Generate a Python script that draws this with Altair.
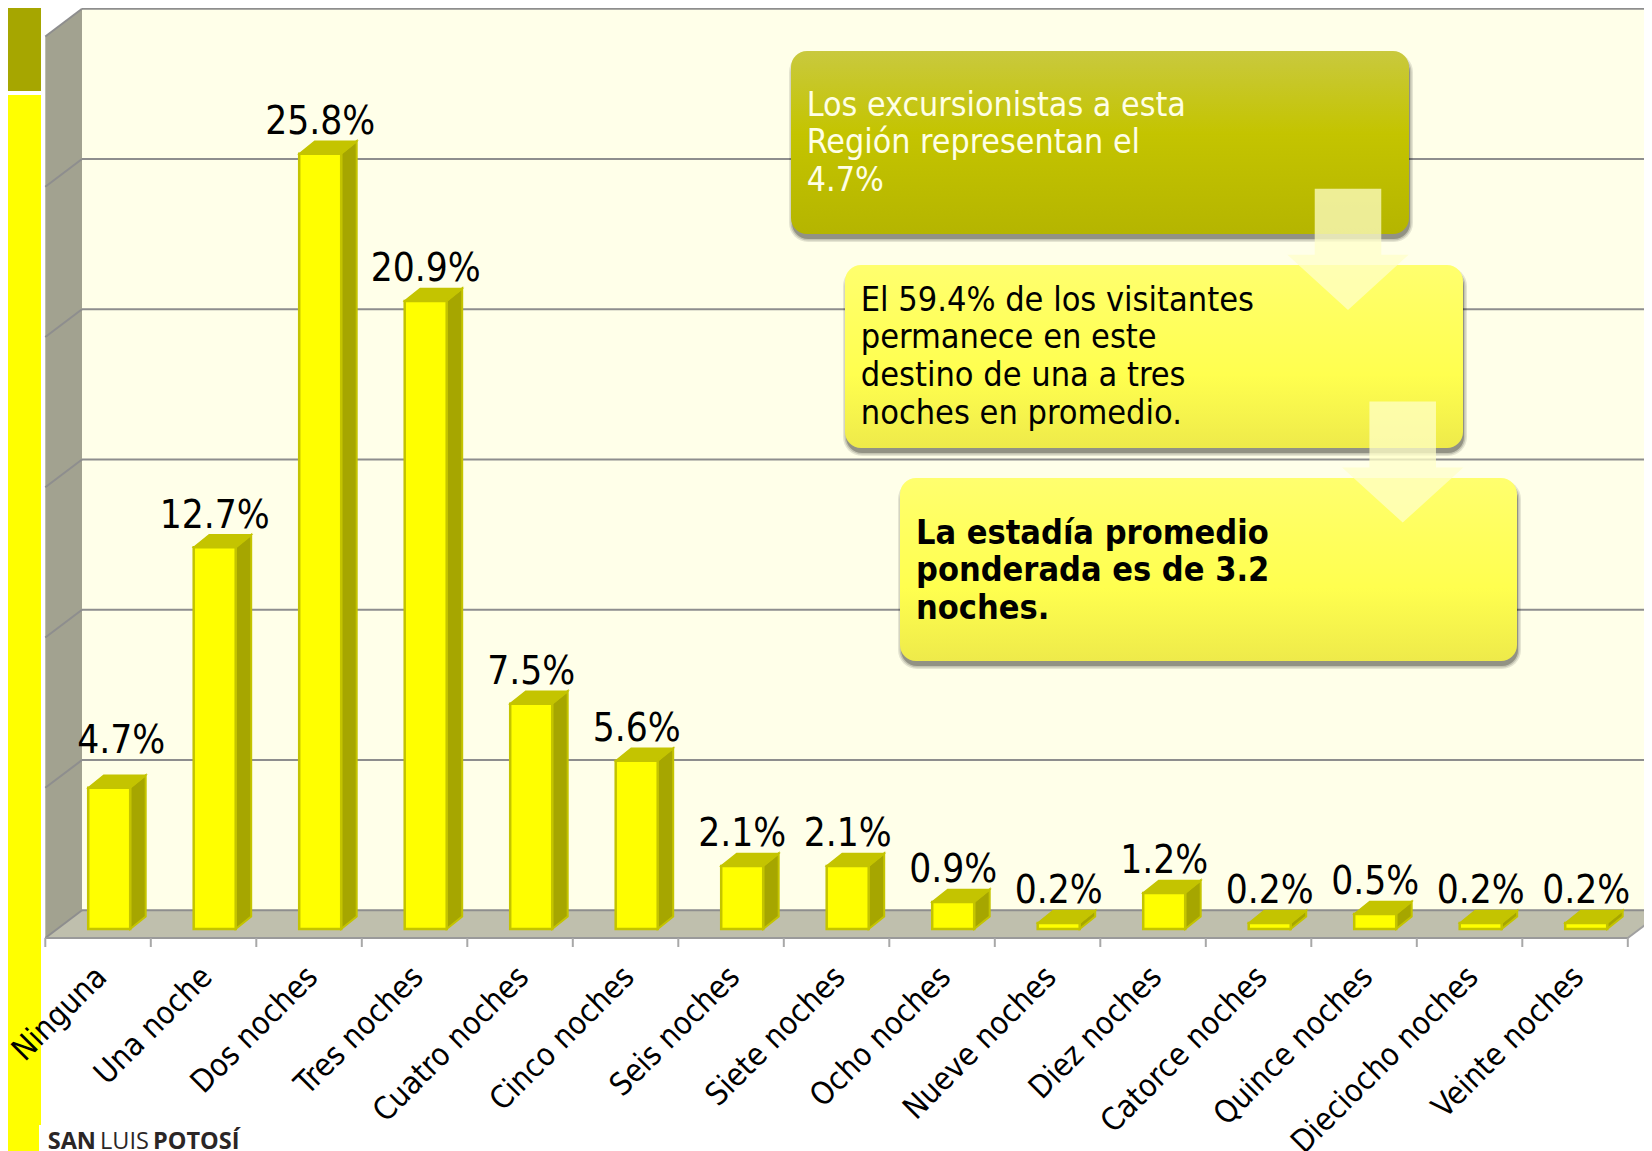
import altair as alt
import pandas as pd

categories = ["Ninguna", "Una noche", "Dos noches", "Tres noches", "Cuatro noches", "Cinco noches",
              "Seis noches", "Siete noches", "Ocho noches", "Nueve noches", "Diez noches",
              "Catorce noches", "Quince noches", "Dieciocho noches", "Veinte noches"]
values = [4.7, 12.7, 25.8, 20.9, 7.5, 5.6, 2.1, 2.1, 0.9, 0.2, 1.2, 0.2, 0.5, 0.2, 0.2]
grid_values = [0, 5, 10, 15, 20, 25, 30]

W, H = 1636, 1143
CAT_PX, PCT_PX = 105.5, 30.05     # pixels per category / per percent
LEFT_PX, BASE_PX = 45.3, 929.0    # page position of category edge 0 and of value 0
PAGE = 8

def rx(px): return (px - LEFT_PX) / CAT_PX
def ry(py): return (BASE_PX - py) / PCT_PX

x_domain = [rx(PAGE), rx(PAGE + W)]
y_domain = [ry(PAGE + H), ry(PAGE)]
FONT = "DejaVu Sans Condensed"

def X(f): return alt.X(f + ":Q", scale=alt.Scale(domain=x_domain, range=[0, W], nice=False, zero=False), axis=None)
def Y(f): return alt.Y(f + ":Q", scale=alt.Scale(domain=y_domain, range=[H, 0], nice=False, zero=False), axis=None)

back_dx, back_dy, front_dy = 36.7 / CAT_PX, 18.7 / PCT_PX, -9 / PCT_PX
bar_left, bar_w, bar_dx, bar_dy = 42.9 / CAT_PX, 42 / CAT_PX, 15.5 / CAT_PX, 12.5 / PCT_PX

# ---- walls
wall_left = pd.DataFrame({"x": [0, back_dx], "y": [30 + front_dy, 30 + back_dy],
                          "y2": [front_dy, back_dy]})
floor = pd.DataFrame({"x": [0, back_dx, 15, 15 + back_dx], "y": [front_dy, back_dy, back_dy, back_dy],
                      "y2": [front_dy, front_dy, front_dy, back_dy]})
grid = pd.DataFrame({"x": [back_dx] * 7, "x2": [x_domain[1]] * 7, "y": [g + back_dy for g in grid_values]})
diag = pd.DataFrame([{"g": g, "x": xx, "y": g + yy} for g in grid_values
                     for xx, yy in ((0, front_dy), (back_dx, back_dy))])
diag_r = pd.DataFrame({"x": [15, 15 + back_dx], "y": [front_dy, back_dy]})
ticks = pd.DataFrame({"x": list(range(16)), "y": [front_dy] * 16, "y2": [front_dy - 9 / PCT_PX] * 16})

layers = []
one = pd.DataFrame({"a": [0]})

def px_rect(x, x2, y, y2, **kw):
    return alt.Chart(one).mark_rect(**kw).encode(
        x=alt.value(x - PAGE), x2=alt.value(x2 - PAGE), y=alt.value(y - PAGE), y2=alt.value(y2 - PAGE))

# left band
layers.append(px_rect(8, 41, 8, 91, color="#A6A600"))
layers.append(px_rect(8, 41, 95, 1151, color="#FFFF00"))
layers.append(px_rect(39, 260, 1125, 1151, color="#FFFFFF"))

layers.append(alt.Chart(pd.DataFrame({"x": [back_dx], "x2": [x_domain[1]], "y": [30 + back_dy], "y2": [back_dy]}))
              .mark_rect(color="#FFFFE9").encode(x=X("x"), x2="x2:Q", y=Y("y"), y2="y2:Q"))
layers.append(alt.Chart(wall_left).mark_area(color="#A2A290").encode(x=X("x"), y=Y("y"), y2="y2:Q"))
layers.append(alt.Chart(floor).mark_area(color="#BFBFAD").encode(x=X("x"), y=Y("y"), y2="y2:Q"))
layers.append(alt.Chart(grid).mark_rule(color="#8E8E8E", strokeWidth=2).encode(x=X("x"), x2="x2:Q", y=Y("y")))
layers.append(alt.Chart(diag).mark_line(color="#8E8E8E", strokeWidth=2).encode(x=X("x"), y=Y("y"), detail="g:N"))
layers.append(alt.Chart(diag_r).mark_line(color="#A0A0A0", strokeWidth=2).encode(x=X("x"), y=Y("y")))
layers.append(alt.Chart(pd.DataFrame({"x": [0], "x2": [15], "y": [front_dy]}))
              .mark_rule(color="#9A9A9A", strokeWidth=2).encode(x=X("x"), x2="x2:Q", y=Y("y")))
layers.append(alt.Chart(ticks).mark_rule(color="#A8A8A8", strokeWidth=2).encode(x=X("x"), y=Y("y"), y2="y2:Q"))

# ---- bars
front, side, top, lab, cat = [], [], [], [], []
for i, (c, v) in enumerate(zip(categories, values)):
    L = i + bar_left
    R = L + bar_w
    front.append({"c": c, "x": L, "x2": R, "y": v, "y2": 0})
    side += [{"c": c, "x": R, "y": v, "y2": 0}, {"c": c, "x": R + bar_dx, "y": v + bar_dy, "y2": bar_dy}]
    top += [{"c": c, "x": L, "y": v, "y2": v},
            {"c": c, "x": L + bar_dx, "y": v + bar_dy, "y2": v},
            {"c": c, "x": R, "y": v + bar_dy, "y2": v},
            {"c": c, "x": R + bar_dx, "y": v + bar_dy, "y2": v + bar_dy}]
    first = i == 0
    lab.append({"x": L + bar_w / 2 + (12 / CAT_PX if first else 0),
                "y": v + bar_dy + (22 if first else 7) / PCT_PX, "t": f"{v:.1f}%"})
    cat.append({"x": i + 0.5 + 4 / CAT_PX, "y": ry(972.5), "t": c})

layers.append(alt.Chart(pd.DataFrame(side)).mark_area(color="#A6A600", stroke="#C4C400", strokeWidth=2)
              .encode(x=X("x"), y=Y("y"), y2="y2:Q", detail="c:N"))
layers.append(alt.Chart(pd.DataFrame(top)).mark_area(color="#C4C400", stroke="#C4C400", strokeWidth=1.5)
              .encode(x=X("x"), y=Y("y"), y2="y2:Q", detail="c:N"))
layers.append(alt.Chart(pd.DataFrame(front)).mark_rect(fill="#FFFF00", stroke="#C4C400", strokeWidth=2.5)
              .encode(x=X("x"), x2="x2:Q", y=Y("y"), y2="y2:Q"))
layers.append(alt.Chart(pd.DataFrame(lab)).mark_text(font=FONT, fontSize=38.5, color="#000000", align="center",
              baseline="alphabetic").encode(x=X("x"), y=Y("y"), text="t:N"))
layers.append(alt.Chart(pd.DataFrame(cat)).mark_text(font=FONT, fontSize=31.5, color="#000000", align="right",
              baseline="middle", angle=315).encode(x=X("x"), y=Y("y"), text="t:N"))

# ---- callouts
def grad(stops):
    return alt.LinearGradient(gradient="linear", x1=0, x2=0, y1=0, y2=1,
                              stops=[alt.GradientStop(offset=o, color=c) for o, c in stops])

olive = grad([(0, "#C9C93E"), (0.45, "#C4C400"), (1, "#B5B500")])
lemon = grad([(0, "#FFFF6E"), (0.6, "#FFFF4F"), (1, "#EEEA4A")])
boxes = [(791, 1409, 51, 234, olive), (845, 1463, 265, 448, lemon), (900, 1517, 478, 661, lemon)]
for x, x2, y, y2, fill in boxes:
    for grow, op in ((3, 0.10), (1.5, 0.15), (0, 0.25)):
        layers.append(px_rect(x - grow + 1, x2 + grow + 1, y - grow + 5, y2 + grow + 5, color="#000000",
                              opacity=op, cornerRadius=16 + grow))
    layers.append(px_rect(x, x2, y, y2, color=fill, cornerRadius=16))

def text_lines(lines, x, ys, color, weight="normal", size=34.0):
    df = pd.DataFrame({"t": lines, "y": [v - PAGE for v in ys]})
    return alt.Chart(df).mark_text(font=FONT, fontSize=size, color=color, align="left", baseline="alphabetic",
                                   fontWeight=weight).encode(
        x=alt.value(x - PAGE), y=alt.Y("y:Q", scale=None, axis=None), text="t:N")

layers.append(text_lines(["Los excursionistas a esta", "Región representan el", "4.7%"],
                         806.8, [115.7, 153.3, 191.2], "#FFFFE6", size=33.7))
layers.append(text_lines(["El 59.4% de los visitantes", "permanece en este", "destino de una a tres",
                          "noches en promedio."], 860.8, [310.8, 348.4, 386, 424], "#000000"))
layers.append(text_lines(["La estadía promedio", "ponderada es de 3.2", "noches."],
                         916, [543.5, 581, 618.6], "#000000", weight="bold"))

ARROW = "M-.549,-1L.549,-1L.549,.09L1,.09L0,1L-1,.09L-.549,.09Z"
for cx, cy in ((1348, 249.3), (1402.7, 462)):
    layers.append(alt.Chart(one).mark_point(shape=ARROW, size=14689, filled=True, color="#FFFFC8", opacity=0.75,
                                            strokeWidth=0)
                  .encode(x=alt.value(cx - PAGE), y=alt.value(cy - PAGE)))

# ---- footer
for t, x, w in (("SAN", 47.7, "bold"), ("LUIS", 100, "normal"), ("POTOSÍ", 153, "bold")):
    layers.append(alt.Chart(one).mark_text(text=t, font="Open Sans", fontSize=23.5, fontWeight=w, color="#2B2626",
                                           align="left", baseline="alphabetic")
                  .encode(x=alt.value(x - PAGE), y=alt.value(1149 - PAGE)))

chart = alt.layer(*layers).resolve_scale(x="shared", y="independent").properties(
    width=W, height=H, padding=0, autosize=alt.AutoSizeParams(type="none"), background="#FFFFFF"
).configure_view(stroke=None)

chart.save("out.html", embed_options={"renderer": "svg", "actions": False})
